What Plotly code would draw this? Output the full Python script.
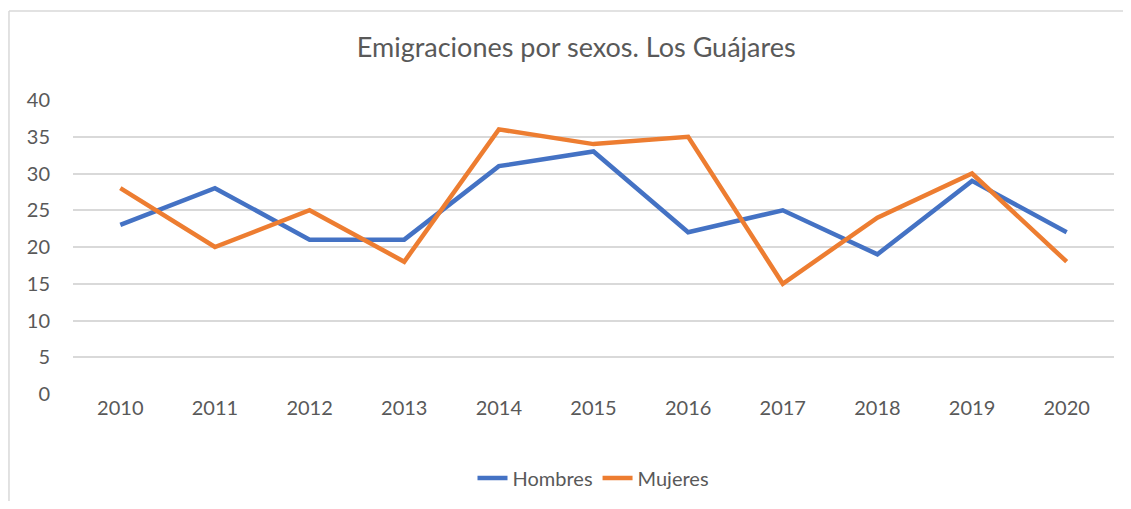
import plotly.graph_objects as go

years = ["2010", "2011", "2012", "2013", "2014", "2015", "2016", "2017", "2018", "2019", "2020"]
hombres = [23, 28, 21, 21, 31, 33, 22, 25, 19, 29, 22]
mujeres = [28, 20, 25, 18, 36, 34, 35, 15, 24, 30, 18]

FONT = "Lato"
GREY = "#595959"

fig = go.Figure()
fig.add_trace(go.Scatter(x=years, y=hombres, name="Hombres", mode="lines",
                         line=dict(color="#4472C4", width=4.5)))
fig.add_trace(go.Scatter(x=years, y=mujeres, name="Mujeres", mode="lines",
                         line=dict(color="#ED7D31", width=4.5)))

BORDER = dict(color="#d9d9d9", width=1.5)

fig.update_layout(
    width=1123, height=493,
    margin=dict(l=65, r=17, t=92, b=107),
    paper_bgcolor="white", plot_bgcolor="white",
    font=dict(family=FONT, color=GREY, size=20),
    title=dict(text="Emigraciones por sexos. Los Guájares", x=0.506, xanchor="center",
               y=1 - 40 / 493, yanchor="middle", font=dict(size=27, color=GREY, family=FONT)),
    xaxis=dict(type="category", range=[-0.5, 10.5], showgrid=False, zeroline=False,
               showline=False, ticks="", tickfont=dict(size=20, color=GREY)),
    yaxis=dict(range=[0, 40], dtick=5, showgrid=True, gridcolor="#d9d9d9", gridwidth=1.5,
               zeroline=False, showline=False, ticks="", ticklabelstandoff=22,
               tickfont=dict(size=20, color=GREY)),
    legend=dict(orientation="h", x=0.5, xanchor="center", yref="container",
                y=1 - 470 / 493, yanchor="middle", font=dict(size=20, color=GREY),
                itemwidth=30, traceorder="normal"),
    showlegend=True,
    shapes=[
        dict(type="line", xref="paper", yref="paper", x0=-0.0615, x1=1.2,
             y0=1.3027, y1=1.3027, line=BORDER, layer="below"),
        dict(type="line", xref="paper", yref="paper", x0=-0.0615, x1=-0.0615,
             y0=-0.6, y1=1.3027, line=BORDER, layer="below"),
    ],
)

fig.write_html("out.html",
               post_script="document.documentElement.style.overflow='hidden';"
                           "document.body.style.overflow='hidden';")
